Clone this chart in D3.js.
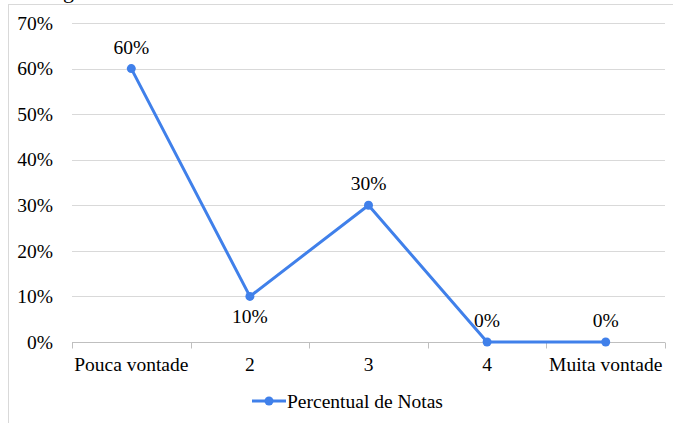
<!DOCTYPE html>
<html>
<head>
<meta charset="utf-8">
<script src="https://cdn.jsdelivr.net/npm/d3@7"></script>
<style>
  html, body { margin: 0; padding: 0; background: #fff; }
  svg { display: block; }
</style>
</head>
<body>
<svg id="chart" width="673" height="423"></svg>
<script>
// Categories and values (percent of grades)
const categories = ["Pouca vontade", "2", "3", "4", "Muita vontade"];
const values = [60, 10, 30, 0, 0];
const yTicks = [0, 10, 20, 30, 40, 50, 60, 70];
const labelAbove = [true, false, true, true, true];
const seriesName = "Percentual de Notas";

const W = 673, H = 423;
const margin = { left: 72, right: 8, top: 23, bottom: 81 };
const color = "#4080EA";
const fontSize = 19.5;
const FONT = "'Liberation Serif', 'Times New Roman', Times, serif";

const svg = d3.select("#chart");

function styleText(sel) {
  return sel.attr("font-family", FONT)
    .style("font-family", FONT)
    .style("font-size", fontSize + "px")
    .attr("fill", "#000");
}

// chart frame
svg.append("rect")
  .attr("x", 8.5).attr("y", 4.5)
  .attr("width", W + 10).attr("height", H + 10)
  .attr("fill", "none").attr("stroke", "#d9d9d9").attr("stroke-width", 1);

// title fragment above the frame
styleText(svg.append("text")
  .attr("x", 63).attr("y", -2)
  .text("g"))
  .style("font-size", "22px");

const x = d3.scaleBand().domain(categories).range([margin.left, W - margin.right]);
const y = d3.scaleLinear().domain([0, 70]).range([H - margin.bottom, margin.top]);

// gridlines
svg.append("g")
  .selectAll("line")
  .data(yTicks.filter(d => d > 0))
  .join("line")
  .attr("x1", margin.left).attr("x2", W - margin.right)
  .attr("y1", d => Math.round(y(d)) + 0.5).attr("y2", d => Math.round(y(d)) + 0.5)
  .attr("stroke", "#d9d9d9").attr("stroke-width", 1);

// y axis labels
const yAxis = d3.axisLeft(y).tickValues(yTicks).tickFormat(d => d + "%").tickSize(0).tickPadding(0);
const yg = svg.append("g").attr("transform", `translate(${margin.left - 19},0)`).call(yAxis);
yg.select(".domain").remove();
yg.attr("font-family", FONT);
styleText(yg.selectAll("text")).attr("dy", "0.32em");

// x axis with ticks at band boundaries
const y0 = Math.round(y(0)) + 0.5;
svg.append("line")
  .attr("x1", margin.left).attr("x2", W - margin.right)
  .attr("y1", y0).attr("y2", y0)
  .attr("stroke", "#bfbfbf").attr("stroke-width", 1);
const bounds = categories.map(c => x(c)).concat([W - margin.right]);
svg.append("g").selectAll("line")
  .data(bounds)
  .join("line")
  .attr("x1", d => Math.round(d) + 0.5).attr("x2", d => Math.round(d) + 0.5)
  .attr("y1", y0).attr("y2", y0 + 6)
  .attr("stroke", "#bfbfbf");

const xAxis = d3.axisBottom(x).tickSize(0).tickPadding(0);
const xg = svg.append("g").attr("transform", `translate(0,${y0})`).call(xAxis);
xg.select(".domain").remove();
xg.attr("font-family", FONT);
styleText(xg.selectAll("text")).attr("dy", "1.46em");

// series line
const cx = c => x(c) + x.bandwidth() / 2;
const line = d3.line().x((d, i) => cx(categories[i])).y(d => y(d));
svg.append("path")
  .datum(values)
  .attr("d", line)
  .attr("fill", "none")
  .attr("stroke", color)
  .attr("stroke-width", 3)
  .attr("stroke-linejoin", "round");

svg.append("g").selectAll("circle")
  .data(values)
  .join("circle")
  .attr("cx", (d, i) => cx(categories[i]))
  .attr("cy", d => y(d))
  .attr("r", 4.5)
  .attr("fill", color);

// data labels
styleText(svg.append("g").selectAll("text")
  .data(values)
  .join("text")
  .attr("x", (d, i) => cx(categories[i]))
  .attr("y", (d, i) => labelAbove[i] ? y(d) - 15 : y(d) + 27)
  .attr("text-anchor", "middle")
  .text(d => d + "%"));

// legend
const lg = svg.append("g").attr("transform", "translate(252,401)");
lg.append("line").attr("x1", 0).attr("x2", 34).attr("y1", 0).attr("y2", 0)
  .attr("stroke", color).attr("stroke-width", 3);
lg.append("circle").attr("cx", 17).attr("cy", 0).attr("r", 4.5).attr("fill", color);
styleText(lg.append("text").attr("x", 35).attr("y", 7)
  .text(seriesName));
</script>
</body>
</html>
